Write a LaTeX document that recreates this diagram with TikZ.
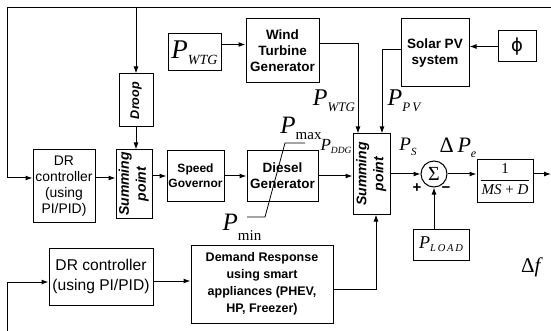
\documentclass[tikz,border=0pt]{standalone}
\usepackage{fontspec}
\setmainfont{Liberation Sans}
\newfontfamily\tms{Liberation Serif}
\newfontfamily\djv{DejaVu Sans}
\usetikzlibrary{arrows.meta}

\newcommand{\fsz}[2]{\fontsize{#1}{#2}\selectfont}
% P with a subscript: size of P, size of subscript, drop, subscript
\newcommand{\psym}[4]{{\tms\fsz{#1}{#1}\itshape P}\raisebox{#3}{\tms\fsz{#2}{#2}#4}}

\tikzset{
  blk/.style={draw,line width=1pt,inner sep=1pt,align=center},
  bf/.style={font=\bfseries\fsz{13.5}{16}},
  lbl/.style={inner sep=0pt},
}

\begin{document}
\begin{tikzpicture}[x=1pt,y=-1pt,>={Latex[length=7pt,width=5pt]}]
  \useasboundingbox (0,0) rectangle (551,331);
  % outer feedback corners
  \coordinate (tl) at (7,8);
  \coordinate (tr) at (551,8);
  \coordinate (bl) at (7,331);
  \coordinate (out) at (551,174);
  % upper row: wind and solar
  \node[blk,minimum width=53,minimum height=37] (pwtgin) at (194.5,52.5) {\psym{27}{14}{-6pt}{\itshape WTG}};
  \node[blk,bf,minimum width=73,minimum height=64] (wind) at (282.5,51) {Wind\\Turbine\\Generator};
  \node[blk,bf,minimum width=68,minimum height=68] (solar) at (435,53) {Solar PV\\system};
  \node[blk,minimum width=38,minimum height=31] (phi) at (517,46.5) {\djv\fsz{18}{18}ϕ};
  % middle row: diesel path
  \node[blk,minimum width=62,minimum height=72,font=\fsz{13.9}{16}] (dr1) at (64,186) {DR\\controller\\(using\\PI/PID)};
  \node[blk,minimum width=34,minimum height=53] (droop) at (136,100.5) {\rotatebox{90}{\bfseries\itshape\fsz{12.6}{15}Droop}};
  \node[blk,minimum width=34,minimum height=68] (sum1) at (134,184) {\rotatebox{90}{\bfseries\itshape\fsz{14}{17}\begin{tabular}{@{}c@{}}Summing\\point\end{tabular}}};
  \node[blk,minimum width=57,minimum height=50,font=\bfseries\fsz{12}{15}] (gov) at (195.5,176) {Speed\\Governor};
  \node[blk,bf,minimum width=71,minimum height=50] (diesel) at (282.5,176) {Diesel\\Generator};
  \node[blk,minimum width=37,minimum height=80] (sum2) at (371.5,174) {\rotatebox{90}{\bfseries\itshape\fsz{14}{17}\begin{tabular}{@{}c@{}}Summing\\point\end{tabular}}};
  \node[draw,circle,line width=1pt,minimum size=26,inner sep=0pt] (sigma) at (434,174) {\tms\fsz{20}{20}Σ};
  \node[blk,minimum width=56,minimum height=42,inner sep=0pt] (tf) at (505,181)
    {\tms\fsz{15}{15}\setlength{\tabcolsep}{1pt}\begin{tabular}{c}1\\[2pt]\hline\rule{0pt}{14pt}\textit{MS} + \textit{D}\end{tabular}};
  \node[blk,minimum width=56,minimum height=31] (pload) at (441,244.5) {\psym{18}{10.5}{-3pt}{\itshape L\,O\,A\,D}};
  % lower row: demand response
  \node[blk,minimum width=104,minimum height=57,font=\fsz{15.6}{20}] (dr2) at (101,276.5) {DR controller\\(using PI/PID)};
  \node[blk,minimum width=142,minimum height=78,font=\bfseries\fsz{12.5}{17}] (drbox) at (262,284) {Demand Response\\using smart\\appliances (PHEV,\\HP, Freezer)};
  % signal labels
  \node[lbl] (lwtg) at (334,101) {\psym{24}{13}{-6pt}{\itshape WTG}};
  \node[lbl] (lpv) at (404,101) {\psym{24}{13}{-6pt}{\itshape P\,V}};
  \node[lbl] (lddg) at (336,146) {\psym{17}{9.5}{-3pt}{\itshape DDG}};
  \node[lbl] (lps) at (408,147) {\psym{19}{11}{-5pt}{\itshape S}};
  \node[lbl] (lpe) at (458,148) {{\tms\fsz{22}{22}Δ\,}\psym{22}{12}{-5pt}{\itshape e}};
  \node[lbl] (lmax) at (301,128) {\psym{25}{15}{-6pt}{max}};
  \node[lbl] (lmin) at (242,227) {\psym{25}{15}{-10pt}{min}};
  \node[lbl,font=\bfseries\fsz{15}{15}] (plus) at (417,188) {+};
  \node[lbl,font=\bfseries\fsz{15}{15}] (minus) at (446,190) {−};
  \node[lbl] (df) at (532,267) {\tms\fsz{21}{21}Δ\textit{f}};
  % limiter on the diesel output
  \draw[line width=0.8pt] (247,217) -- (265,217) -- (285,143) -- (305,143);
  % connectors
  \begin{scope}[line width=1pt]
    \draw[->] (tr) -- (tl) |- ([yshift=8pt]dr1.west);
    \draw[->] (droop.north |- tl) -- (droop.north);
    \draw[->] (droop.south) -- (droop.south |- sum1.north);
    \draw[->] ([yshift=8pt]dr1.east) -- ([yshift=8pt]dr1.east -| sum1.west);
    \draw[->] (sum1.east |- gov.west) -- (gov.west);
    \draw[->] (gov.east) -- (diesel.west);
    \draw[->] (diesel.east) -- (diesel.east -| sum2.west);
    \draw[->] ([yshift=8pt]pwtgin.east) -- ([yshift=8pt]pwtgin.east -| wind.west);
    \draw[->] ([yshift=7pt]wind.east) -| ([xshift=-13.5pt]sum2.north);
    \draw[->] (phi.west) -- (phi.west -| solar.east);
    \draw[->] ([yshift=3pt]solar.west) -| ([xshift=10.5pt]sum2.north);
    \draw[->] (sum2.east |- sigma.west) -- (sigma.west);
    \draw[->] (sigma.south |- pload.north) -- (sigma.south);
    \draw[->] (sigma.east) -- (sigma.east -| tf.west);
    \draw[->] (sigma.east -| tf.east) -- (out);
    \draw[->] (bl) |- ([yshift=-5.5pt]dr2.west);
    \draw[->] ([yshift=-4.5pt]dr2.east) -- ([yshift=-4.5pt]dr2.east -| drbox.west);
    \draw[->] ([yshift=-5pt]drbox.east) -| ([xshift=4.5pt]sum2.south);
  \end{scope}
\end{tikzpicture}
\end{document}
